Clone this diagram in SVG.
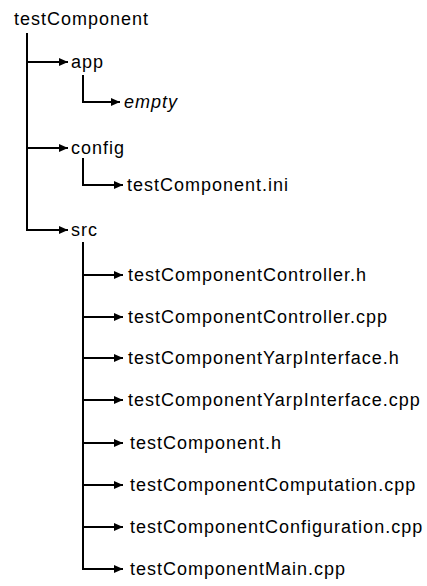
<svg xmlns="http://www.w3.org/2000/svg" width="427" height="586" viewBox="0 0 427 586">
<defs>
<marker id="ah" markerWidth="10" markerHeight="10" refX="9" refY="5" orient="auto" markerUnits="userSpaceOnUse">
<path d="M0,1 L9,5 L0,9 Z" fill="#000"/>
</marker>
</defs>
<style>
text{font-family:"Liberation Sans",Arial,sans-serif;font-size:18px;letter-spacing:1px;fill:#000}
.ln{fill:none;stroke:#000;stroke-width:2}
</style>
<rect width="427" height="586" fill="#fff"/>
<g id="connectors">
<path class="ln" d="M27,33 V230 H68" marker-end="url(#ah)"/>
<path class="ln" d="M27,62 H68" marker-end="url(#ah)"/>
<path class="ln" d="M27,148 H68" marker-end="url(#ah)"/>
<path class="ln" d="M83,75 V102 H120" marker-end="url(#ah)"/>
<path class="ln" d="M83,158 V185 H123" marker-end="url(#ah)"/>
<path class="ln" d="M83,242 V569 H123" marker-end="url(#ah)"/>
<path class="ln" d="M83,275 H123" marker-end="url(#ah)"/>
<path class="ln" d="M83,317 H123" marker-end="url(#ah)"/>
<path class="ln" d="M83,358 H123" marker-end="url(#ah)"/>
<path class="ln" d="M83,400 H123" marker-end="url(#ah)"/>
<path class="ln" d="M83,443 H123" marker-end="url(#ah)"/>
<path class="ln" d="M83,485 H123" marker-end="url(#ah)"/>
<path class="ln" d="M83,527 H123" marker-end="url(#ah)"/>
</g>
<g id="n-root"><text x="14" y="25">testComponent</text></g>
<g id="n-app"><text x="71" y="68">app</text></g>
<g id="n-empty"><text x="124" y="108" font-style="italic">empty</text></g>
<g id="n-config"><text x="71" y="154">config</text></g>
<g id="n-ini"><text x="127" y="191">testComponent.ini</text></g>
<g id="n-src"><text x="71" y="236">src</text></g>
<g id="n-f1"><text x="128" y="281">testComponentController.h</text></g>
<g id="n-f2"><text x="128" y="323">testComponentController.cpp</text></g>
<g id="n-f3"><text x="128" y="364">testComponentYarpInterface.h</text></g>
<g id="n-f4"><text x="128" y="406">testComponentYarpInterface.cpp</text></g>
<g id="n-f5"><text x="130" y="449">testComponent.h</text></g>
<g id="n-f6"><text x="130" y="491">testComponentComputation.cpp</text></g>
<g id="n-f7"><text x="130" y="533">testComponentConfiguration.cpp</text></g>
<g id="n-f8"><text x="130" y="575">testComponentMain.cpp</text></g>
</svg>
